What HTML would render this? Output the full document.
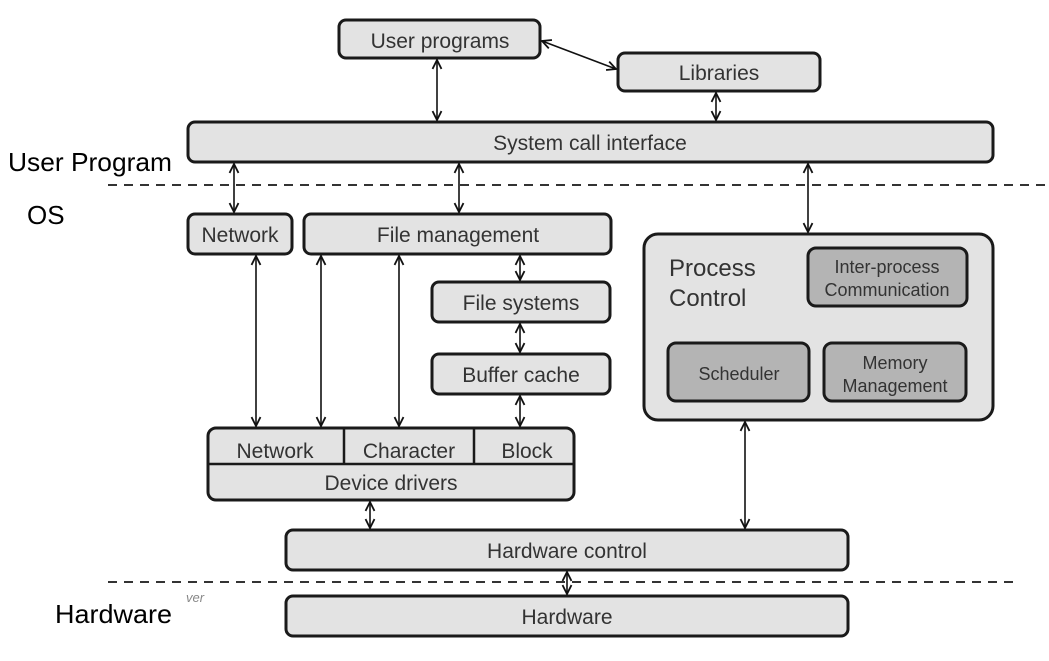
<!DOCTYPE html>
<html><head><meta charset="utf-8"><style>
html,body{margin:0;padding:0;background:#fff;}
svg{display:block;font-family:"Liberation Sans",Arial,sans-serif;}
</style></head><body>
<svg width="1049" height="661" viewBox="0 0 1049 661" xmlns="http://www.w3.org/2000/svg">
<defs>
<marker id="a" viewBox="0 0 10 10" refX="9" refY="5" markerWidth="7" markerHeight="7" orient="auto-start-reverse">
<path d="M1,1 L9,5 L1,9" fill="none" stroke="#111" stroke-width="1.6"/>
</marker>
</defs>
<rect width="1049" height="661" fill="#fff"/>
<g fill="#e3e3e3" stroke="#1a1a1a" stroke-width="3">
<rect x="339" y="20" width="201" height="38" rx="7"/>
<rect x="618" y="53" width="202" height="38" rx="7"/>
<rect x="188" y="122" width="805" height="40" rx="7"/>
<rect x="188" y="214" width="104" height="40" rx="7"/>
<rect x="304" y="214" width="307" height="40" rx="7"/>
<rect x="432" y="282" width="178" height="40" rx="7"/>
<rect x="432" y="354" width="178" height="40" rx="7"/>
<rect x="644" y="234" width="349" height="186" rx="14"/>
<rect x="208" y="428" width="366" height="72" rx="8"/>
<rect x="286" y="530" width="562" height="40" rx="7"/>
<rect x="286" y="596" width="562" height="40" rx="7"/>
</g>
<g fill="#b4b4b4" stroke="#1a1a1a" stroke-width="3">
<rect x="808" y="248" width="159" height="58" rx="8"/>
<rect x="668" y="343" width="141" height="58" rx="8"/>
<rect x="824" y="343" width="142" height="58" rx="8"/>
</g>
<g stroke="#1a1a1a" stroke-width="2.5">
<line x1="208" y1="464" x2="574" y2="464"/>
<line x1="344" y1="428" x2="344" y2="464"/>
<line x1="474" y1="428" x2="474" y2="464"/>
</g>
<g stroke="#333" stroke-width="2" stroke-dasharray="9,7">
<line x1="108" y1="185" x2="1045" y2="185"/>
<line x1="108" y1="582" x2="1020" y2="582"/>
</g>
<g stroke="#111" stroke-width="1.6" marker-start="url(#a)" marker-end="url(#a)">
<line x1="437" y1="60" x2="437" y2="120"/>
<line x1="716" y1="93" x2="716" y2="120"/>
<line x1="542" y1="41" x2="616" y2="69"/>
<line x1="234" y1="164" x2="234" y2="212"/>
<line x1="459" y1="164" x2="459" y2="212"/>
<line x1="808" y1="164" x2="808" y2="232"/>
<line x1="256" y1="256" x2="256" y2="426"/>
<line x1="321" y1="256" x2="321" y2="426"/>
<line x1="399" y1="256" x2="399" y2="426"/>
<line x1="520" y1="256" x2="520" y2="280"/>
<line x1="520" y1="324" x2="520" y2="352"/>
<line x1="520" y1="396" x2="520" y2="426"/>
<line x1="370" y1="502" x2="370" y2="528"/>
<line x1="745" y1="422" x2="745" y2="528"/>
<line x1="567" y1="572" x2="567" y2="594"/>
</g>
<g fill="#333" font-size="21" text-anchor="middle">
<text x="440" y="48">User programs</text>
<text x="719" y="80">Libraries</text>
<text x="590" y="150">System call interface</text>
<text x="240" y="242">Network</text>
<text x="458" y="242">File management</text>
<text x="521" y="310">File systems</text>
<text x="521" y="382">Buffer cache</text>
<text x="275" y="458">Network</text>
<text x="409" y="458">Character</text>
<text x="527" y="458">Block</text>
<text x="391" y="490">Device drivers</text>
<text x="567" y="558">Hardware control</text>
<text x="567" y="624">Hardware</text>
</g>
<g fill="#333" font-size="18" text-anchor="middle">
<text x="887" y="273">Inter-process</text>
<text x="887" y="296">Communication</text>
<text x="739" y="380">Scheduler</text>
<text x="895" y="369">Memory</text>
<text x="895" y="392">Management</text>
</g>
<g fill="#333" font-size="24">
<text x="669" y="276">Process</text>
<text x="669" y="306">Control</text>
</g>
<g fill="#000" font-size="26">
<text x="8" y="171" textLength="164" lengthAdjust="spacingAndGlyphs">User Program</text>
<text x="27" y="224">OS</text>
<text x="55" y="623" textLength="117" lengthAdjust="spacingAndGlyphs">Hardware</text>
</g>
<text x="186" y="602" fill="#888" font-size="13" font-style="italic">ver</text>
</svg>
</body></html>
